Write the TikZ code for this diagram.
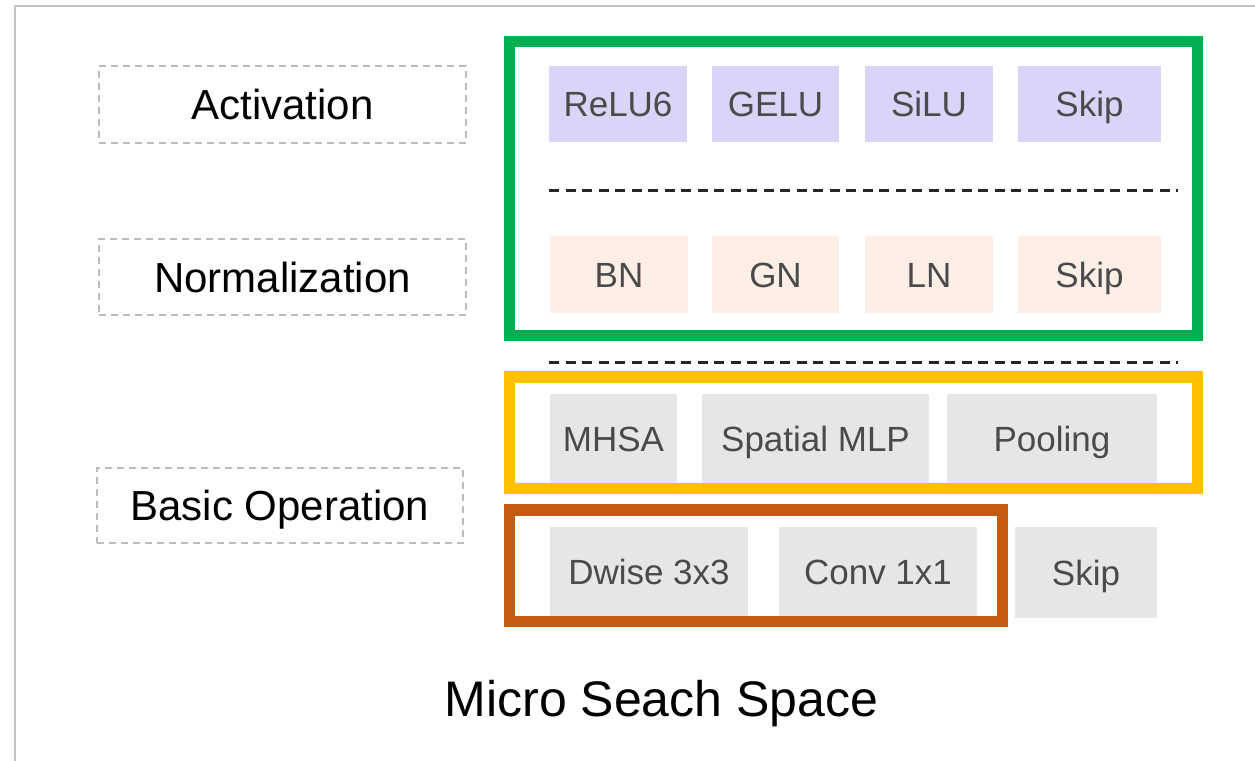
\documentclass[tikz,border=0pt]{standalone}
\usepackage{fontspec}
\setmainfont{Liberation Sans}
\definecolor{frameGray}{HTML}{C4C4C4}
\definecolor{lblGray}{HTML}{BDBDBD}
\definecolor{actFill}{HTML}{DAD4F8}
\definecolor{normFill}{HTML}{FDEFE6}
\definecolor{opFill}{HTML}{E6E6E6}
\definecolor{boxText}{HTML}{4A4A4A}
\definecolor{grnFrame}{HTML}{00B050}
\definecolor{ylwFrame}{HTML}{FFC000}
\definecolor{orgFrame}{HTML}{C55A11}
\tikzset{
  lbl/.style={draw=lblGray, line width=1.6pt, dash pattern=on 7pt off 5pt,
    inner sep=0pt, text height=30pt, text depth=0pt,
    font=\fontsize{42}{50}\selectfont, text=black},
  opbox/.style={inner sep=0pt, text height=25pt, text depth=0pt,
    font=\fontsize{35}{42}\selectfont, text=boxText},
  actbox/.style={opbox, fill=actFill},
  normbox/.style={opbox, fill=normFill},
  basebox/.style={opbox, fill=opFill},
  sepline/.style={draw=black!85, line width=3pt, dash pattern=on 10pt off 6.5pt},
  colframe/.style={line width=11.5pt},
  outerline/.style={draw=frameGray, line width=2pt},
}
\begin{document}
\begin{tikzpicture}[x=1pt,y=-1pt]
\useasboundingbox (0,0) rectangle (1255,760);
\fill[white] (0,0) rectangle (1255,760);
% outer frame
\draw[outerline] (1258,6) -- (15,6) -- (15,763);

% category labels
\node[lbl, minimum width=367pt, minimum height=77pt] (act) at (282.5,104.5) {Activation};
\node[lbl, minimum width=367pt, minimum height=76pt] (norm) at (282.5,277) {Normalization};
\node[lbl, minimum width=366pt, minimum height=75pt] (basic) at (280,505.5) {Basic Operation};

% activation row
\node[actbox, minimum width=138pt, minimum height=76pt] (relu) at (618,104) {ReLU6};
\node[actbox, minimum width=127pt, minimum height=76pt] (gelu) at (775.5,104) {GELU};
\node[actbox, minimum width=128pt, minimum height=76pt] (silu) at (929,104) {SiLU};
\node[actbox, minimum width=143pt, minimum height=76pt] (askip) at (1089.5,104) {Skip};

% normalization row
\node[normbox, minimum width=138pt, minimum height=77pt] (bn) at (619,274.5) {BN};
\node[normbox, minimum width=127pt, minimum height=77pt] (gn) at (775.5,274.5) {GN};
\node[normbox, minimum width=128pt, minimum height=77pt] (ln) at (929,274.5) {LN};
\node[normbox, minimum width=143pt, minimum height=77pt] (nskip) at (1089.5,274.5) {Skip};

% basic operation rows
\node[basebox, minimum width=127pt, minimum height=89pt] (mhsa) at (613.5,438.5) {MHSA};
\node[basebox, minimum width=227pt, minimum height=89pt] (smlp) at (815.5,438.5) {Spatial MLP};
\node[basebox, minimum width=210pt, minimum height=89pt] (pool) at (1052,438.5) {Pooling};
\node[basebox, minimum width=198pt, minimum height=89pt] (dw) at (649,571.5) {Dwise 3x3};
\node[basebox, minimum width=198pt, minimum height=89pt] (conv) at (878,571.5) {Conv 1x1};
\node[basebox, minimum width=142pt, minimum height=91pt] (bskip) at (1086,572.5) {Skip};

% separators
\coordinate (s1a) at (549,190);
\coordinate (s1b) at (1178,190);
\coordinate (s2a) at (549,362);
\coordinate (s2b) at (1178,362);
\draw[sepline] (s1a) -- (s1b);
\draw[sepline] (s2a) -- (s2b);

% coloured frames
\draw[colframe, draw=grnFrame] (509.5,41.5) rectangle (1197.5,335.5);
\draw[colframe, draw=ylwFrame] (509.5,377) rectangle (1197.5,488.5);
\draw[colframe, draw=orgFrame] (509.5,510) rectangle (1002.5,621.5);

% title
\node[inner sep=0pt, text height=36pt, text depth=0pt, font=\fontsize{50}{60}\selectfont] (title) at (661.5,698) {Micro Seach Space};
\end{tikzpicture}
\end{document}
